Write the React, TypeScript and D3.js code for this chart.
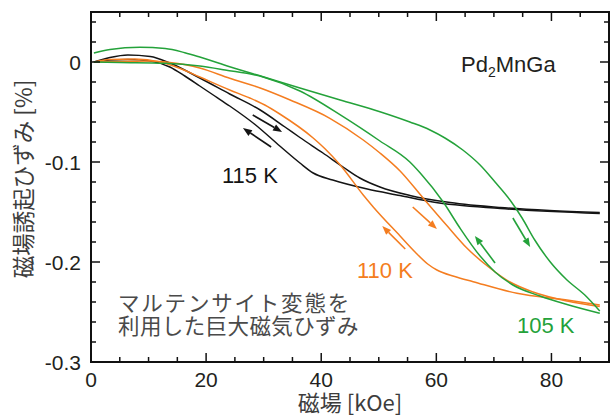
import React from "react";
import * as d3 from "d3";

// ---- data (field kOe, strain %) ; each branch listed with rising field value ----
const k105Right: [number, number][] = [
  [0.5, 0.009], [3.3, 0.0125], [8.5, 0.0147], [12.9, 0.0135], [16.3, 0.0093], [18.9, 0.005],
  [24.1, -0.0047], [29.9, -0.0148], [36.3, -0.026], [43.3, -0.038], [50.2, -0.0497], [55.4, -0.06],
  [58.9, -0.068], [61.5, -0.076], [64.6, -0.088], [67.6, -0.103], [70.2, -0.12], [72.8, -0.138],
  [74.9, -0.156], [77.1, -0.178], [79.8, -0.2], [82.7, -0.218], [85.8, -0.233], [88.4, -0.249],
];
const k105Left: [number, number][] = [
  [0.5, 0], [5.0, -0.0005], [12.9, -0.0013], [18.9, -0.004], [23.3, -0.008], [29.9, -0.015],
  [36.3, -0.029], [43.8, -0.0547], [50.2, -0.079], [55.4, -0.1], [57.2, -0.111], [61.2, -0.14],
  [64.1, -0.166], [67.6, -0.194], [70.2, -0.21], [73.3, -0.223], [78.0, -0.234], [82.7, -0.2425],
  [88.4, -0.2513],
];
const k110Right: [number, number][] = [
  [0.5, 0], [5.0, 0.0005], [10.3, 0.001], [13.7, -0.0005], [18.9, -0.006], [24.1, -0.0163],
  [29.4, -0.026], [34.6, -0.038], [41.5, -0.0563], [47.3, -0.078], [50.2, -0.091], [53.7, -0.109],
  [57.7, -0.136], [61.9, -0.164], [65.3, -0.186], [69.3, -0.206], [72.8, -0.22], [76.8, -0.23],
  [82.7, -0.239], [88.4, -0.2445],
];
const k110Left: [number, number][] = [
  [0.5, 0], [3.3, 0.0025], [7.6, 0.003], [12.0, 0], [15.5, -0.0065], [18.9, -0.015], [24.1, -0.028],
  [27.6, -0.036], [30.2, -0.043], [32.8, -0.052], [38.6, -0.076], [40.7, -0.087], [43.3, -0.103],
  [47.3, -0.133], [49.0, -0.1447], [53.7, -0.174], [56.3, -0.19], [58.5, -0.202], [60.1, -0.208],
  [63.2, -0.2145], [66.4, -0.2197], [74.0, -0.2313], [82.7, -0.238], [88.4, -0.243],
];
const k115Right: [number, number][] = [
  [0.5, 0], [3.3, 0.0045], [6.4, 0.007], [10.3, 0.0055], [13.7, -0.001], [18.9, -0.016],
  [24.1, -0.032], [29.4, -0.048], [33.7, -0.065], [36.3, -0.0755], [40.3, -0.091], [43.8, -0.105],
  [46.7, -0.116], [50.2, -0.125], [55.4, -0.1335], [62.4, -0.1405], [71.1, -0.1455], [79.7, -0.1485],
  [88.4, -0.1505],
];
const k115Left: [number, number][] = [
  [0.5, 0], [3.3, 0.002], [6.4, 0.0025], [10.3, 0.001], [13.7, -0.005], [16.3, -0.014], [18.9, -0.024],
  [21.5, -0.034], [24.1, -0.044], [28.5, -0.0625], [32.8, -0.084], [36.3, -0.101], [38.6, -0.111],
  [42.0, -0.118], [48.0, -0.127], [53.7, -0.1335], [59.4, -0.14], [71.1, -0.1465], [88.4, -0.1515],
];

// arrows: [x1, y1, x2, y2] (tail -> head)
const arrows115 = [[28.1, -0.053, 33.2, -0.07], [31.3, -0.085, 26.4, -0.066]];
const arrows110 = [[55.9, -0.145, 60.1, -0.167], [54.6, -0.187, 50.6, -0.164]];
const arrows105 = [[73.3, -0.156, 76.3, -0.185], [70.2, -0.201, 66.7, -0.174]];

const xMajor = [0, 20, 40, 60, 80];
const xMinor = d3.range(0, 91, 5);
const yMajor = [0, -0.1, -0.2, -0.3];
const yMinor = d3.range(-15, 3).map((i) => i * 0.02);
const yLabels = ["0", "-0.1", "-0.2", "-0.3"];

const BLACK = "#141414";
const ORANGE = "#f47d20";
const GREEN = "#24a23a";

export default function App() {
  const W = 611, H = 416;
  const L = 91, R = 609, T = 12, B = 362;
  const x = d3.scaleLinear().domain([0, 90]).range([L, R]);
  const y = d3.scaleLinear().domain([0.05, -0.3]).range([T, B]);
  const line = d3
    .line<[number, number]>()
    .x((d) => x(d[0]))
    .y((d) => y(d[1]))
    .curve(d3.curveMonotoneX);

  const series = [
    { a: k115Right, b: k115Left, color: BLACK, arrows: arrows115 },
    { a: k110Right, b: k110Left, color: ORANGE, arrows: arrows110 },
    { a: k105Right, b: k105Left, color: GREEN, arrows: arrows105 },
  ];

  const arrowEl = (a: number[], color: string, key: string) => {
    const x1 = x(a[0]), y1 = y(a[1]), x2 = x(a[2]), y2 = y(a[3]);
    const ang = Math.atan2(y2 - y1, x2 - x1);
    const hl = 9, hw = 3.5;
    const bx = x2 - hl * Math.cos(ang), by = y2 - hl * Math.sin(ang);
    const px = -Math.sin(ang) * hw, py = Math.cos(ang) * hw;
    return (
      <g key={key}>
        <line x1={x1} y1={y1} x2={bx} y2={by} stroke={color} strokeWidth={1.6} />
        <path d={`M${x2},${y2}L${bx + px},${by + py}L${bx - px},${by - py}Z`} fill={color} />
      </g>
    );
  };

  const font = "'Liberation Sans', Arial, 'Noto Sans CJK JP', sans-serif";
  const cjk = "'Noto Sans CJK JP', 'Liberation Sans', sans-serif";

  return (
    <svg width={W} height={H} style={{ position: "absolute", left: 0, top: 0 }} fontFamily={font}>
      <rect width={W} height={H} fill="#fff" />
      {series.map((s, i) => (
        <g key={i}>
          <path d={line(s.a) || ""} fill="none" stroke={s.color} strokeWidth={1.5} />
          <path d={line(s.b) || ""} fill="none" stroke={s.color} strokeWidth={1.5} />
          {s.arrows.map((a, j) => arrowEl(a, s.color, `a${i}-${j}`))}
        </g>
      ))}
      {/* frame */}
      <rect x={L} y={T} width={R - L} height={B - T} fill="none" stroke="#111" strokeWidth={2} />
      {xMinor.map((v) => {
        const major = xMajor.includes(v);
        const len = major ? 9 : 5;
        return (
          <g key={`xt${v}`}>
            <line x1={x(v)} x2={x(v)} y1={B} y2={B - len} stroke="#111" strokeWidth={1.5} />
            <line x1={x(v)} x2={x(v)} y1={T} y2={T + len} stroke="#111" strokeWidth={1.5} />
          </g>
        );
      })}
      {yMinor.map((v, i) => {
        const major = yMajor.some((m) => Math.abs(m - v) < 1e-6);
        const len = major ? 9 : 5;
        return (
          <g key={`yt${i}`}>
            <line x1={L} x2={L + len} y1={y(v)} y2={y(v)} stroke="#111" strokeWidth={1.5} />
            <line x1={R} x2={R - len} y1={y(v)} y2={y(v)} stroke="#111" strokeWidth={1.5} />
          </g>
        );
      })}
      {xMajor.map((v) => (
        <text key={`xl${v}`} x={x(v)} y={387} textAnchor="middle" fontSize={21} fill="#231f20">
          {v}
        </text>
      ))}
      {yMajor.map((v, i) => (
        <text key={`yl${i}`} x={81} y={y(v)} dy="0.36em" textAnchor="end" fontSize={21} fill="#231f20">
          {yLabels[i]}
        </text>
      ))}
      <text x={350} y={411} textAnchor="middle" fontSize={22} fill="#3c3c3c" fontFamily={cjk}>
        磁場 [kOe]
      </text>
      <text
        transform={`translate(22,${179}) rotate(-90)`}
        textAnchor="middle"
        dominantBaseline="central"
        fontSize={22.5}
        fill="#3c3c3c"
        fontFamily={cjk}
      >
        磁場誘起ひずみ [%]
      </text>
      <text x={461} y={72} fontSize={22} fill="#231f20">
        Pd<tspan fontSize={14} dy={5}>2</tspan>
        <tspan dy={-5}>MnGa</tspan>
      </text>
      <text x={222} y={183} fontSize={22} fill={BLACK}>115 K</text>
      <text x={357} y={278} fontSize={22} fill={ORANGE}>110 K</text>
      <text x={517} y={333} fontSize={22} fill={GREEN}>105 K</text>
      <text x={118} y={311} fontSize={21.5} fill="#4a4a4a" fontFamily={cjk} letterSpacing={1.8}>
        マルテンサイト変態を
      </text>
      <text x={118} y={334} fontSize={21.5} fill="#4a4a4a" fontFamily={cjk} letterSpacing={0.4}>
        利用した巨大磁気ひずみ
      </text>
    </svg>
  );
}
